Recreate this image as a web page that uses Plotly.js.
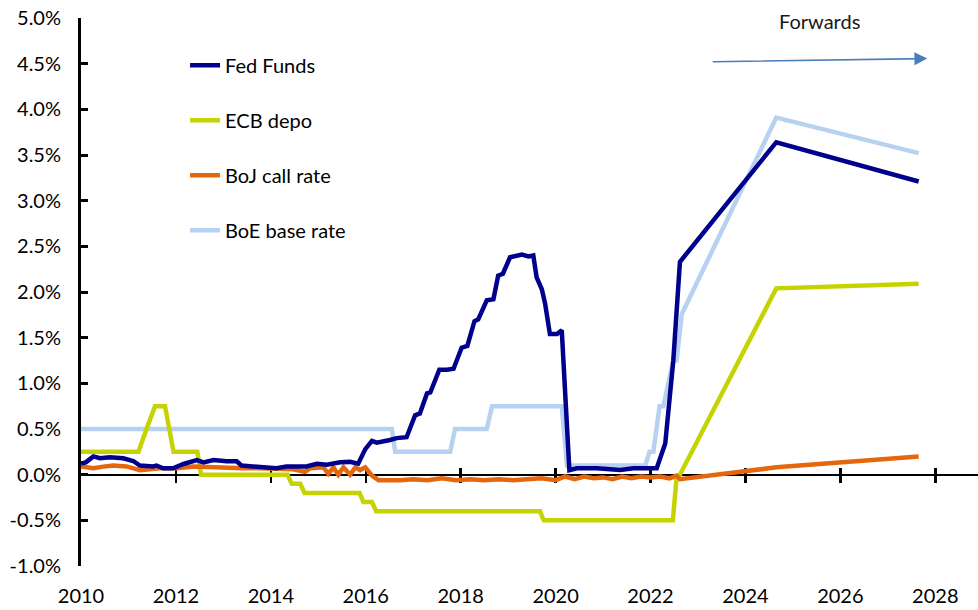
<!DOCTYPE html>
<html>
<head>
<meta charset="utf-8">
<script src="https://cdn.plot.ly/plotly-3.0.1.min.js"></script>
<style>html,body{margin:0;padding:0;background:#fff;}#chart{width:978px;height:610px;}</style>
</head>
<body>
<div id="chart"></div>
<script>
// ---- Data (percent) ----
var fedX = [2010.0,2010.1,2010.26,2010.4,2010.61,2010.89,2011.1,2011.24,2011.52,2011.59,2011.73,2011.94,2012.16,2012.44,2012.58,2012.79,2013.07,2013.28,2013.38,2013.77,2014.12,2014.33,2014.75,2014.97,2015.18,2015.46,2015.67,2015.84,2015.99,2016.13,2016.23,2016.51,2016.65,2016.86,2017.04,2017.14,2017.29,2017.36,2017.55,2017.71,2017.85,2018.02,2018.14,2018.29,2018.37,2018.55,2018.69,2018.79,2018.89,2019.04,2019.29,2019.43,2019.53,2019.60,2019.71,2019.78,2019.88,2020.03,2020.13,2020.29,2020.45,2020.87,2021.36,2021.64,2021.99,2022.13,2022.31,2022.48,2022.62,2024.65,2027.65];
var fedY = [0.12,0.135,0.20,0.18,0.19,0.18,0.15,0.10,0.09,0.10,0.07,0.07,0.117,0.16,0.135,0.16,0.146,0.146,0.10,0.08,0.07,0.09,0.09,0.12,0.11,0.135,0.14,0.12,0.28,0.37,0.35,0.38,0.40,0.41,0.65,0.67,0.89,0.90,1.15,1.15,1.16,1.39,1.41,1.68,1.70,1.91,1.92,2.18,2.20,2.38,2.41,2.39,2.40,2.16,2.03,1.87,1.54,1.54,1.58,0.05,0.07,0.07,0.05,0.07,0.07,0.07,0.34,1.25,2.33,3.64,3.21];

var ecbX = [2010.0,2011.21,2011.38,2011.56,2011.77,2011.86,2011.95,2012.45,2012.53,2014.35,2014.44,2014.62,2014.71,2015.87,2015.95,2016.13,2016.22,2019.67,2019.75,2022.47,2022.55,2022.62,2024.65,2027.65];
var ecbY = [0.25,0.25,0.50,0.75,0.75,0.50,0.25,0.25,0.00,0.00,-0.10,-0.10,-0.20,-0.20,-0.30,-0.30,-0.40,-0.40,-0.50,-0.50,-0.03,0.00,2.04,2.09];

var bojX = [2010.0,2010.26,2010.47,2010.68,2010.96,2011.24,2011.66,2012.02,2012.37,2012.72,2013.07,2013.42,2013.77,2014.12,2014.47,2014.72,2014.83,2015.11,2015.21,2015.32,2015.42,2015.53,2015.67,2015.78,2015.88,2015.99,2016.13,2016.27,2016.59,2016.73,2017.0,2017.3,2017.6,2017.9,2018.2,2018.5,2018.8,2019.1,2019.4,2019.7,2020.0,2020.2,2020.4,2020.6,2020.8,2021.0,2021.2,2021.4,2021.6,2021.8,2022.0,2022.2,2022.4,2022.55,2022.62,2024.65,2027.65];
var bojY = [0.09,0.07,0.088,0.10,0.09,0.05,0.07,0.07,0.09,0.08,0.07,0.07,0.07,0.07,0.06,0.03,0.07,0.08,0.01,0.08,0.00,0.08,0.00,0.08,0.05,0.08,-0.01,-0.06,-0.065,-0.06,-0.05,-0.06,-0.04,-0.06,-0.05,-0.06,-0.05,-0.06,-0.05,-0.04,-0.06,-0.02,-0.05,-0.02,-0.04,-0.03,-0.05,-0.02,-0.04,-0.02,-0.03,-0.02,-0.04,-0.01,-0.05,0.08,0.20];

var boeX = [2010.0,2016.55,2016.62,2017.78,2017.88,2018.55,2018.66,2020.13,2020.24,2021.89,2021.98,2022.06,2022.19,2022.27,2022.48,2022.55,2022.66,2024.65,2027.65];
var boeY = [0.50,0.50,0.25,0.25,0.50,0.50,0.75,0.75,0.10,0.10,0.25,0.25,0.75,0.75,1.25,1.25,1.76,3.91,3.52];

var seriesNames = ['Fed Funds','ECB depo','BoJ call rate','BoE base rate'];
var seriesColors = ['#00008C','#C5D400','#E4670E','#B7D2F0'];
var yTickVals = [-1,-0.5,0,0.5,1,1.5,2,2.5,3,3.5,4,4.5,5];
var yTickText = ['-1.0%','-0.5%','0.0%','0.5%','1.0%','1.5%','2.0%','2.5%','3.0%','3.5%','4.0%','4.5%','5.0%'];
var xTickVals = [2010,2012,2014,2016,2018,2020,2022,2024,2026,2028];
var xTickText = ['2010','2012','2014','2016','2018','2020','2022','2024','2026','2028'];
var forwardsLabel = 'Forwards';
var arrowFrom = [2023.28, 4.52];
var arrowTo = [2027.83, 4.556];
var labelAt = [2025.57, 4.967];

var FONT = 'Lato, "Open Sans", sans-serif';
var FS = 20;
var xs = [fedX, ecbX, bojX, boeX];
var ys = [fedY, ecbY, bojY, boeY];
var traces = [];
for (var i = 0; i < 4; i++) {
  traces.push({
    x: xs[i], y: ys[i], type: 'scatter', mode: 'lines',
    name: seriesNames[i], legendgroup: 'g' + i, legendrank: i + 1,
    line: {color: seriesColors[i], width: 4.5},
    hoverinfo: 'skip'
  });
}
// drawing order: BoE below, Fed on top
traces = [traces[3], traces[1], traces[2], traces[0]];
traces.push({x: [], y: [], xaxis: 'x2', showlegend: false, hoverinfo: 'skip'});
traces.push({x: [], y: [], xaxis: 'x3', showlegend: false, hoverinfo: 'skip'});

var xr = [2010, 2028.9];
var zeroPos = (0 - (-1)) / (5 - (-1));
var layout = {
  width: 978, height: 610,
  margin: {l: 81, r: 0, t: 18, b: 44, pad: 0},
  paper_bgcolor: '#fff', plot_bgcolor: '#fff',
  font: {family: FONT, size: FS, color: '#000'},
  showlegend: true,
  legend: {
    x: 0.116, y: 0.9495, xanchor: 'left', yanchor: 'top',
    traceorder: 'grouped', tracegroupgap: 26,
    itemwidth: 30, bgcolor: 'rgba(0,0,0,0)',
    font: {family: FONT, size: FS, color: '#000'}
  },
  xaxis: {
    range: xr, tickmode: 'array', tickvals: xTickVals, ticktext: xTickText,
    showline: false, showgrid: false, zeroline: false, ticks: '',
    ticklabelstandoff: 16,
    tickfont: {family: FONT, size: FS, color: '#000'}
  },
  xaxis2: {
    overlaying: 'x', anchor: 'free', position: zeroPos, range: xr,
    tickmode: 'array', tickvals: xTickVals.slice(1), showticklabels: false,
    showline: true, linecolor: '#000', linewidth: 2, showgrid: false, zeroline: false,
    ticks: 'outside', ticklen: 7, tickwidth: 2.5, tickcolor: '#000', layer: 'below traces'
  },
  xaxis3: {
    overlaying: 'x', anchor: 'free', position: zeroPos, range: xr,
    tickmode: 'array', tickvals: xTickVals.slice(1), showticklabels: false,
    showline: false, showgrid: false, zeroline: false,
    ticks: 'inside', ticklen: 7, tickwidth: 2.5, tickcolor: '#000', layer: 'below traces'
  },
  yaxis: {
    range: [-1, 5], tickmode: 'array', tickvals: yTickVals, ticktext: yTickText,
    showline: true, linecolor: '#000', linewidth: 3, showgrid: false, zeroline: false,
    ticks: 'inside', ticklen: 7, tickwidth: 3, tickcolor: '#000',
    ticklabelstandoff: 13, layer: 'below traces',
    tickfont: {family: FONT, size: FS, color: '#000'}
  },
  annotations: [
    {x: arrowTo[0], y: arrowTo[1], ax: arrowFrom[0], ay: arrowFrom[1], xref: 'x', yref: 'y', axref: 'x', ayref: 'y',
     showarrow: true, arrowhead: 2, arrowsize: 1.6, arrowwidth: 1.6, arrowcolor: '#4A7EBB', text: ''},
    {x: labelAt[0], y: labelAt[1], xref: 'x', yref: 'y', showarrow: false, text: forwardsLabel,
     font: {family: FONT, size: FS, color: '#1a1a1a'}}
  ]
};
Plotly.newPlot('chart', traces, layout, {staticPlot: true, displayModeBar: false});
</script>
</body>
</html>
